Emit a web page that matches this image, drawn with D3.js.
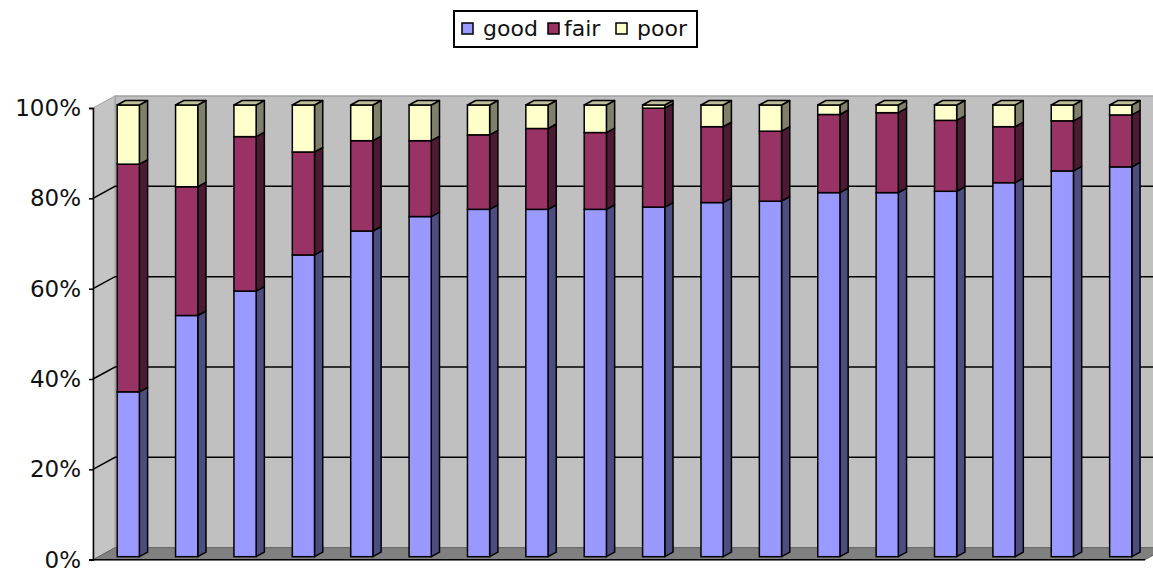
<!DOCTYPE html>
<html>
<head>
<meta charset="utf-8">
<script src="https://cdn.jsdelivr.net/npm/d3@7"></script>
<style>
  html, body { margin: 0; padding: 0; background: #fff; }
  svg { display: block; }
  text { font-family: "DejaVu Sans", Verdana, sans-serif; fill: #111; }
</style>
</head>
<body>
<svg id="chart" width="1153" height="569"></svg>
<script>
const categories = ["1","2","3","4","5","6","7","8","9","10","11","12","13","14","15","16","17","18"];
const seriesNames = ["good", "fair", "poor"];
const good = [36.5, 53.4, 58.8, 66.8, 72.1, 75.3, 76.9, 76.9, 76.9, 77.4, 78.4, 78.7, 80.6, 80.6, 80.9, 82.8, 85.4, 86.3];
const fair = [50.4, 28.5, 34.2, 22.8, 20.0, 16.8, 16.5, 17.9, 17.0, 21.9, 16.8, 15.5, 17.3, 17.7, 15.7, 12.4, 11.1, 11.5];
const poor = [13.1, 18.1, 7.0, 10.4, 7.9, 7.9, 6.6, 5.2, 6.1, 0.7, 4.8, 5.8, 2.1, 1.7, 3.4, 4.8, 3.5, 2.2];
const yTicks = [0, 0.2, 0.4, 0.6, 0.8, 1.0];

const colors = {
  good: { front: "#9999ff", side: "#4d4d80", top: "#7373bf" },
  fair: { front: "#993366", side: "#4d1a33", top: "#73264d" },
  poor: { front: "#ffffcc", side: "#80806a", top: "#bfbf99" }
};

const rows = categories.map((c, i) => ({ cat: c, good: good[i], fair: fair[i], poor: poor[i] }));
const stack = d3.stack().keys(seriesNames).offset(d3.stackOffsetExpand);
const stacked = stack(rows);

const svg = d3.select("#chart");

// 3D geometry
const DX = 22, DY = -12;           // full depth offset
const fFront = 0.25, fBack = 0.625; // bar depth fractions
const x = d3.scaleBand().domain(categories).range([93, 1145]).paddingInner(0.62).paddingOuter(0.32);
const y = d3.scaleLinear().domain([0, 1]).range([559.7, 108]);
const X0 = 93, X1 = 1145;
const P = (px, py, f) => [px + DX * f, py + DY * f];

// Walls
const wall = svg.append("g");
// back wall
wall.append("polygon")
  .attr("points", [P(X0, y(0), 1), P(X0, y(1), 1), P(X1 + 30, y(1), 1), P(X1 + 30, y(0), 1)].map(p => p.join(",")).join(" "))
  .attr("fill", "#c0c0c0").attr("stroke", "#a0a0a0").attr("stroke-width", 1.5);
// side wall
wall.append("polygon")
  .attr("points", [P(X0, y(0), 0), P(X0, y(1), 0), P(X0, y(1), 1), P(X0, y(0), 1)].map(p => p.join(",")).join(" "))
  .attr("fill", "#c4c4c4").attr("stroke", "#a0a0a0").attr("stroke-width", 1);
// floor
wall.append("polygon")
  .attr("points", [P(X0, y(0), 0), P(X1, y(0), 0), P(X1, y(0), 1), P(X0, y(0), 1)].map(p => p.join(",")).join(" "))
  .attr("fill", "#808080").attr("stroke", "#606060").attr("stroke-width", 1);

// gridlines
const grid = svg.append("g");
yTicks.filter(t => t > 0 && t < 1).forEach(t => {
  const a = P(X0, y(t), 0), b = P(X0, y(t), 1), c = P(X1 + 30, y(t), 1);
  grid.append("path").attr("d", `M${a[0]},${a[1]}L${b[0]},${b[1]}L${c[0]},${c[1]}`)
    .attr("fill", "none").attr("stroke", "#000").attr("stroke-width", 1.5);
});

// Bars
const bars = svg.append("g");
const w = x.bandwidth();
categories.forEach((c, i) => {
  const g = bars.append("g");
  const x0 = x(c);
  stacked.forEach((s, si) => {
    const d = s[i];
    const key = s.key;
    const yb = y(d[0]), yt = y(d[1]);
    if (yb - yt < 0.01) return;
    const col = colors[key];
    const fl = P(x0, yb, fFront), ft = P(x0, yt, fFront);
    const fr = P(x0 + w, yb, fFront), frt = P(x0 + w, yt, fFront);
    const br = P(x0 + w, yb, fBack), brt = P(x0 + w, yt, fBack);
    // side face
    g.append("polygon")
      .attr("points", [fr, frt, brt, br].map(p => p.join(",")).join(" "))
      .attr("fill", col.side).attr("stroke", "#000").attr("stroke-width", 1.5).attr("stroke-linejoin", "round");
    // front face
    g.append("rect")
      .attr("x", fl[0]).attr("y", ft[1]).attr("width", w).attr("height", fl[1] - ft[1])
      .attr("fill", col.front).attr("stroke", "#000").attr("stroke-width", 1.5);
  });
  // top face of the topmost segment
  const last = stacked[stacked.length - 1][i];
  const topKey = stacked[stacked.length - 1].key;
  const yt = y(last[1]);
  const a = P(x0, yt, fFront), b = P(x0 + w, yt, fFront), cc = P(x0 + w, yt, fBack), dd = P(x0, yt, fBack);
  g.append("polygon")
    .attr("points", [a, b, cc, dd].map(p => p.join(",")).join(" "))
    .attr("fill", colors[topKey].top).attr("stroke", "#000").attr("stroke-width", 1.5).attr("stroke-linejoin", "round");
});

// Category axis line (front floor edge)
svg.append("line").attr("x1", 89).attr("x2", X1).attr("y1", y(0)).attr("y2", y(0))
  .attr("stroke", "#000").attr("stroke-width", 1.5);

// Y axis
const yAxis = d3.axisLeft(y).tickValues(yTicks).tickFormat(d3.format(".0%")).tickSize(4).tickPadding(8);
const ax = svg.append("g").attr("transform", `translate(${X0},0)`).call(yAxis);
ax.select(".domain").attr("stroke", "#000").attr("stroke-width", 1.5);
ax.selectAll(".tick line").attr("stroke", "#000").attr("stroke-width", 1.5);
ax.selectAll(".tick text").attr("font-size", 23).attr("font-family", "DejaVu Sans, Verdana, sans-serif").attr("fill", "#111");

// Legend
const legend = svg.append("g");
legend.append("rect").attr("x", 454).attr("y", 11).attr("width", 243).attr("height", 36)
  .attr("fill", "#fff").attr("stroke", "#000").attr("stroke-width", 2);
const legendX = [[462, 483], [548, 564], [616, 637]];
seriesNames.forEach((k, i) => {
  legend.append("rect").attr("x", legendX[i][0]).attr("y", 23).attr("width", 11).attr("height", 11)
    .attr("fill", colors[k].front).attr("stroke", "#000").attr("stroke-width", 1.5);
  legend.append("text").attr("x", legendX[i][1]).attr("y", 36).attr("font-size", 22).text(k);
});
</script>
</body>
</html>
